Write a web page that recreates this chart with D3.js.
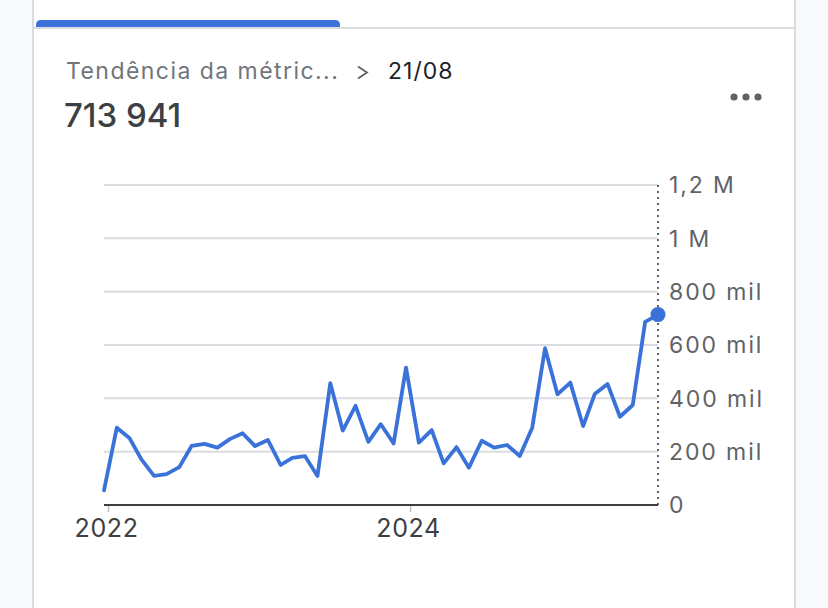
<!DOCTYPE html>
<html>
<head>
<meta charset="utf-8">
<script src="https://cdn.jsdelivr.net/npm/d3@7"></script>
<style>
  html, body { margin: 0; padding: 0; background: #f8f9fa; }
  svg { display: block; font-family: Inter, "Noto Sans", sans-serif; }
</style>
</head>
<body>
<svg id="chart" width="828" height="608"></svg>
<script>
// ---- data ----
const dates = [
  "2021-12-21",
  "2022-01-21","2022-02-21","2022-03-21","2022-04-21","2022-05-21","2022-06-21",
  "2022-07-21","2022-08-21","2022-09-21","2022-10-21","2022-11-21","2022-12-21",
  "2023-01-21","2023-02-21","2023-03-21","2023-04-21","2023-05-21","2023-06-21",
  "2023-07-21","2023-08-21","2023-09-21","2023-10-21","2023-11-21","2023-12-21",
  "2024-01-21","2024-02-21","2024-03-21","2024-04-21","2024-05-21","2024-06-21",
  "2024-07-21","2024-08-21","2024-09-21","2024-10-21","2024-11-21","2024-12-21",
  "2025-01-21","2025-02-21","2025-03-21","2025-04-21","2025-05-21","2025-06-21",
  "2025-07-21","2025-08-21"
];
const values = [
  55000,
  290000, 250000, 172000, 109000, 116000, 142000,
  222000, 229000, 215000, 247000, 269000, 221000,
  244000, 150000, 177000, 183000, 109000, 457000,
  279000, 372000, 237000, 303000, 231000, 515000,
  234000, 281000, 156000, 217000, 140000, 241000,
  215000, 225000, 184000, 290000, 588000, 415000,
  459000, 296000, 416000, 454000, 331000, 375000,
  687000, 713941
];
const yTicks = [0, 200000, 400000, 600000, 800000, 1000000, 1200000];
const yTickLabels = ["0", "200 mil", "400 mil", "600 mil", "800 mil", "1 M", "1,2 M"];
const xTicks = ["2022-01-01", "2024-01-01"];
const xTickLabels = ["2022", "2024"];
const titleText = "Tendência da métric...";
const dateText = "21/08";
const valueText = "713 941";

// ---- setup ----
const parse = d3.utcParse("%Y-%m-%d");
const data = dates.map((d, i) => ({ date: parse(d), value: values[i] }));

const svg = d3.select("#chart");
const W = 828, H = 608;

// card
svg.append("rect").attr("x", 0).attr("y", 0).attr("width", W).attr("height", H).attr("fill", "#f8f9fa");
svg.append("rect").attr("x", 33).attr("y", -2).attr("width", 762).attr("height", H + 4)
  .attr("fill", "#ffffff").attr("stroke", "#dadce0").attr("stroke-width", 2);
// divider under tabs
svg.append("line").attr("x1", 34).attr("x2", 794).attr("y1", 28).attr("y2", 28)
  .attr("stroke", "#dadce0").attr("stroke-width", 2);
// active tab indicator (rounded top)
svg.append("path")
  .attr("d", "M36,27 L36,25 Q36,20 41,20 L335,20 Q340,20 340,25 L340,27 Z")
  .attr("fill", "#3a72d9");

// header
svg.append("text").attr("x", 66).attr("y", 79)
  .attr("font-size", 23).attr("letter-spacing", 1.45).attr("fill", "#70757a").text(titleText);
svg.append("path").attr("d", "M358,66.5 L367,72.5 L358,78.5")
  .attr("fill", "none").attr("stroke", "#5f6368").attr("stroke-width", 1.8);
svg.append("text").attr("x", 388).attr("y", 79)
  .attr("font-size", 23).attr("letter-spacing", 1.0).attr("fill", "#202124").text(dateText);
svg.append("text").attr("x", 64).attr("y", 127)
  .attr("font-size", 33).attr("font-weight", 500).attr("fill", "#3c4043").text(valueText);

// menu dots
[734, 746, 758].forEach(cx => {
  svg.append("circle").attr("cx", cx).attr("cy", 97).attr("r", 3.6).attr("fill", "#5f6368");
});

// ---- scales ----
const x = d3.scaleUtc()
  .domain(d3.extent(data, d => d.date))
  .range([104, 658]);
const y = d3.scaleLinear().domain([0, 1200000]).range([505, 185]);

// gridlines
svg.append("g").selectAll("line").data(yTicks.filter(t => t > 0)).join("line")
  .attr("x1", 104).attr("x2", 658)
  .attr("y1", d => y(d)).attr("y2", d => y(d))
  .attr("stroke", "#dadce0").attr("stroke-width", 2);

// dotted vertical line at last point
const last = data[data.length - 1];
svg.append("line")
  .attr("x1", x(last.date)).attr("x2", x(last.date))
  .attr("y1", y(1200000)).attr("y2", y(0))
  .attr("stroke", "#5f6368").attr("stroke-width", 2)
  .attr("stroke-dasharray", "2,4");

// y labels (right)
svg.append("g").selectAll("text").data(yTicks).join("text")
  .attr("x", 669).attr("y", d => y(d)).attr("dy", "0.36em")
  .attr("font-size", 23).attr("fill", "#5f6368").attr("letter-spacing", 1.9)
  .text((d, i) => yTickLabels[i]);

// x ticks
const xt = xTicks.map(parse);
svg.append("g").selectAll("line").data(xt).join("line")
  .attr("x1", d => x(d)).attr("x2", d => x(d))
  .attr("y1", 506).attr("y2", 512)
  .attr("stroke", "#bdc1c6").attr("stroke-width", 1.5);
svg.append("g").selectAll("text").data(xt).join("text")
  .attr("x", d => x(d) - 2).attr("y", 537)
  .attr("text-anchor", "middle")
  .attr("font-size", 25).attr("letter-spacing", 0.6).attr("fill", "#3c4043")
  .text((d, i) => xTickLabels[i]);

// baseline
svg.append("line").attr("x1", 104).attr("x2", 658).attr("y1", y(0)).attr("y2", y(0))
  .attr("stroke", "#3c4043").attr("stroke-width", 2.2);

// line
const line = d3.line().x(d => x(d.date)).y(d => y(d.value)).curve(d3.curveLinear);
svg.append("path").datum(data)
  .attr("d", line)
  .attr("fill", "none").attr("stroke", "#3a72d9")
  .attr("stroke-width", 3.8).attr("stroke-linejoin", "round").attr("stroke-linecap", "round");

// end dot
svg.append("circle").attr("cx", x(last.date)).attr("cy", y(last.value)).attr("r", 7.5)
  .attr("fill", "#3a72d9");
</script>
</body>
</html>
